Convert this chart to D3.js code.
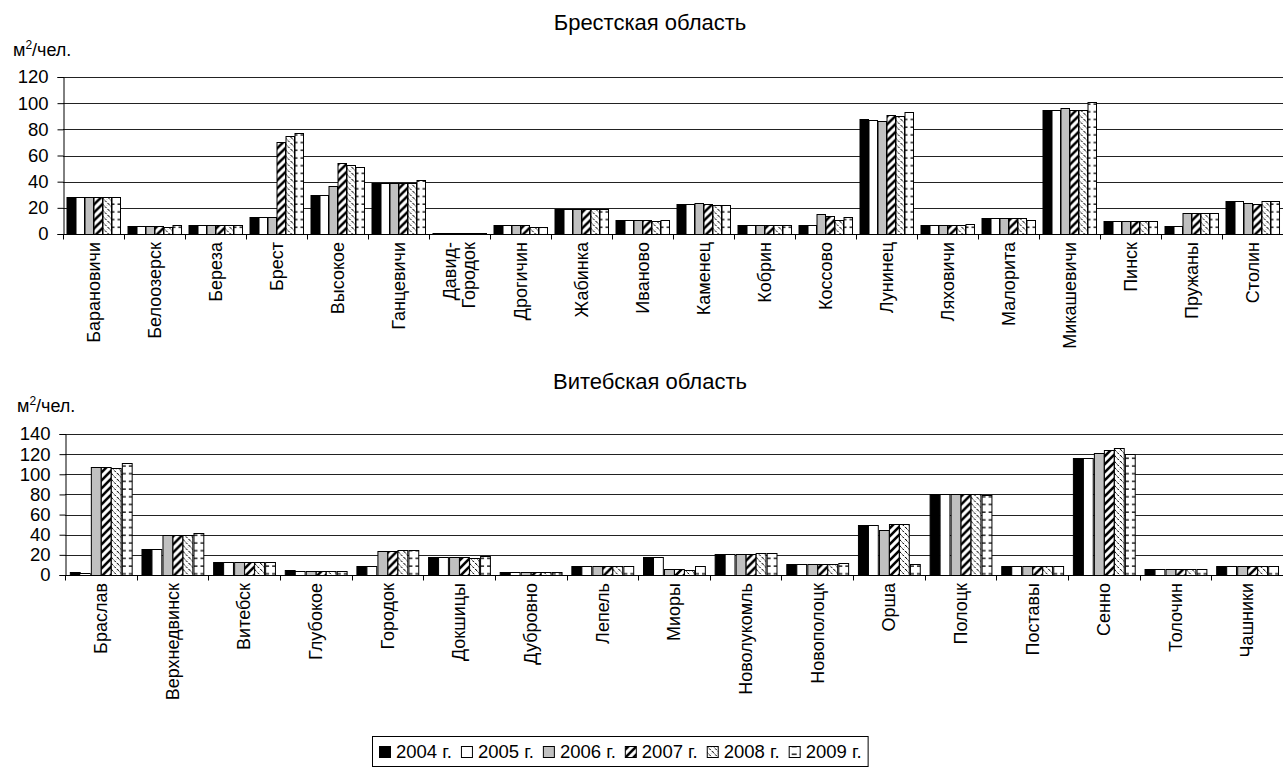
<!DOCTYPE html>
<html>
<head>
<meta charset="utf-8">
<script src="https://d3js.org/d3.v7.min.js"></script>
<style>
  body { margin: 0; background: #fff; }
  svg  { display: block; font-family: Arial, "Liberation Sans", sans-serif; }
</style>
</head>
<body>
<svg id="chart" width="1283" height="767"></svg>
<script>
// ---- data ----
const years = ['2004 г.', '2005 г.', '2006 г.', '2007 г.', '2008 г.', '2009 г.'];

const brestCities = ['Барановичи', 'Белоозерск', 'Береза', 'Брест', 'Высокое', 'Ганцевичи',
  'Давид-\nГородок', 'Дрогичин', 'Жабинка', 'Иваново', 'Каменец', 'Кобрин', 'Коссово',
  'Лунинец', 'Ляховичи', 'Малорита', 'Микашевичи', 'Пинск', 'Пружаны', 'Столин'];
// one row per city, columns 2004..2009
const brestVals = [
  [28, 28, 28, 28, 28, 28],
  [6, 6, 6, 6, 5, 7],
  [7, 7, 7, 7, 7, 7],
  [13, 13, 13, 70, 75, 77],
  [30, 30, 37, 54, 53, 51],
  [39, 39, 39, 39, 39, 41],
  [1, 1, 1, 1, 1, 1],
  [7, 7, 7, 7, 5, 5],
  [19, 19, 19, 19, 19, 19],
  [11, 11, 11, 11, 10, 11],
  [23, 23, 24, 23, 22, 22],
  [7, 7, 7, 7, 7, 7],
  [7, 7, 15, 14, 11, 13],
  [88, 87, 86, 91, 90, 93],
  [7, 7, 7, 7, 7, 8],
  [12, 12, 12, 12, 12, 11],
  [95, 95, 96, 95, 95, 101],
  [10, 10, 10, 10, 10, 10],
  [6, 6, 16, 16, 16, 16],
  [25, 25, 24, 23, 25, 25]
];
const brestTicks = [0, 20, 40, 60, 80, 100, 120];

const vitebskCities = ['Браслав', 'Верхнедвинск', 'Витебск', 'Глубокое', 'Городок', 'Докшицы',
  'Дубровно', 'Лепель', 'Миоры', 'Новолукомль', 'Новополоцк', 'Орша', 'Полоцк', 'Поставы',
  'Сенно', 'Толочин', 'Чашники'];
const vitebskVals = [
  [3, 2, 107, 107, 106, 111],
  [26, 26, 40, 40, 40, 42],
  [13, 13, 13, 13, 13, 13],
  [5, 4, 4, 4, 4, 4],
  [9, 9, 24, 24, 25, 25],
  [18, 18, 18, 18, 17, 19],
  [3, 3, 3, 3, 3, 3],
  [9, 9, 9, 9, 9, 9],
  [18, 18, 6, 6, 5, 9],
  [21, 21, 21, 21, 22, 22],
  [11, 11, 11, 11, 11, 12],
  [50, 50, 45, 51, 51, 11],
  [80, 80, 80, 80, 80, 79],
  [9, 9, 9, 9, 9, 9],
  [116, 116, 121, 124, 126, 120],
  [6, 6, 6, 6, 6, 6],
  [9, 9, 9, 9, 9, 9]
];
const vitebskTicks = [0, 20, 40, 60, 80, 100, 120, 140];

// ---- fills (Excel-like black & white patterns) ----
const svg  = d3.select('#chart');
const defs = svg.append('defs');

function pat(id, w, h, draw) {
  const p = defs.append('pattern').attr('id', id).attr('patternUnits', 'userSpaceOnUse')
    .attr('width', w).attr('height', h);
  p.append('rect').attr('width', w).attr('height', h).attr('fill', '#fff');
  draw(p);
}
// 2007: wide upward diagonal
pat('p2007', 8, 8, p => {
  p.append('path').attr('d', 'M-2,10L10,-2M-6,6L6,-6M2,14L14,2')
    .attr('stroke', '#000').attr('stroke-width', 2.6);
});
// 2008: dashed downward diagonal, with a light cross weave
pat('p2008', 6, 6, p => {
  p.append('path').attr('d', 'M0,0L6,6M-3,3L3,9M3,-3L9,3')
    .attr('stroke', '#000').attr('stroke-width', 1).attr('stroke-dasharray', '2.2,1.2');
  p.append('path').attr('d', 'M0,6L6,0').attr('stroke', '#888').attr('stroke-width', 0.6)
    .attr('stroke-dasharray', '1,2');
});
// 2009: short horizontal dashes
pat('p2009', 8, 7.7, p => {
  p.append('path').attr('d', 'M3,4H8').attr('stroke', '#000').attr('stroke-width', 1.3);
});

const fills = ['#000', '#fff', '#c0c0c0', 'url(#p2007)', 'url(#p2008)', 'url(#p2009)'];

// ---- one panel ----
function panel(o) {
  const g = svg.append('g');
  const x0 = d3.scaleBand().domain(o.cats).range([o.left, 1283])
    .paddingInner(o.pad).paddingOuter(o.pad / 2);
  const x1 = d3.scaleBand().domain(years).range([0, x0.bandwidth()]);
  const y  = d3.scaleLinear().domain([0, d3.max(o.ticks)]).range([o.bottom, o.top]);

  g.append('text').attr('x', 650).attr('y', o.titleY).attr('text-anchor', 'middle')
    .attr('font-size', 22).text(o.title);

  const u = g.append('text').attr('x', o.unitX).attr('y', o.unitY).attr('font-size', 18);
  u.append('tspan').text('м');
  u.append('tspan').attr('font-size', 12).attr('dy', -7).text('2');
  u.append('tspan').attr('dy', 7).text('/чел.');

  // gridlines
  g.append('g').selectAll('line').data(o.ticks.slice(1)).join('line')
    .attr('x1', o.left).attr('x2', 1283)
    .attr('y1', d => Math.round(y(d)) + 0.5).attr('y2', d => Math.round(y(d)) + 0.5)
    .attr('stroke', '#222').attr('stroke-width', 1);

  // y axis
  const ya = g.append('g').attr('transform', `translate(${o.left + 0.5},0)`)
    .call(d3.axisLeft(y).tickValues(o.ticks).tickSize(6).tickPadding(9));
  ya.select('.domain').attr('stroke', '#000');
  ya.selectAll('line').attr('stroke', '#000');
  ya.selectAll('text').attr('font-size', 18.5).attr('font-family', null).attr('fill', '#000');

  // bars
  const grp = g.append('g').selectAll('g').data(o.cats).join('g')
    .attr('transform', d => `translate(${x0(d)},0)`);
  grp.selectAll('rect').data((d, i) => o.vals[i].map((v, k) => ({ v, k })))
    .join('rect')
    .attr('x', d => Math.round(x1(years[d.k])) + 0.5)
    .attr('width', x1.bandwidth() - 0.5)
    .attr('y', d => Math.round(y(d.v)) + 0.5)
    .attr('height', d => o.bottom - Math.round(y(d.v)))
    .attr('fill', d => fills[d.k])
    .attr('stroke', '#000').attr('stroke-width', 1);

  // x axis line + category ticks
  const b = Math.round(o.bottom) + 0.5;
  g.append('line').attr('x1', o.left).attr('x2', 1283).attr('y1', b).attr('y2', b)
    .attr('stroke', '#000');
  const edges = o.cats.map(c => x0(c) - x0.step() * o.pad / 2).concat([1283]);
  g.append('g').selectAll('line').data(edges).join('line')
    .attr('x1', d => Math.round(d) + 0.5).attr('x2', d => Math.round(d) + 0.5)
    .attr('y1', b).attr('y2', b + 5).attr('stroke', '#000');

  // rotated category labels
  g.append('g').selectAll('text').data(o.cats).join('text')
    .attr('transform', d => `translate(${x0(d) + x0.bandwidth() / 2},${o.bottom + 8}) rotate(-90)`)
    .attr('text-anchor', 'end').attr('font-size', 18)
    .each(function (d) {
      const lines = d.split('\n');
      const t = d3.select(this);
      lines.forEach((s, i) => {
        t.append('tspan').attr('x', 0)
          .attr('y', (0.35 + (i - (lines.length - 1) / 2) * 1.05) + 'em').text(s);
      });
    });
}

panel({ title: 'Брестская область', cats: brestCities, vals: brestVals, ticks: brestTicks,
  left: 63, top: 77, bottom: 234, pad: 0.115, titleY: 30, unitX: 13, unitY: 56 });
panel({ title: 'Витебская область', cats: vitebskCities, vals: vitebskVals, ticks: vitebskTicks,
  left: 65, top: 434, bottom: 575, pad: 0.135, titleY: 389, unitX: 17, unitY: 412 });

// ---- legend ----
const lg = svg.append('g');
const box = lg.append('rect').attr('fill', '#fff').attr('stroke', '#000');
let cx = 0;
const items = lg.append('g');
years.forEach((yr, k) => {
  const it = items.append('g').attr('transform', `translate(${cx},0)`);
  it.append('rect').attr('x', 0.5).attr('y', -11.5).attr('width', 11).attr('height', 11)
    .attr('fill', fills[k]).attr('stroke', '#000');
  const t = it.append('text').attr('x', 17).attr('y', 0).attr('font-size', 18.5).text(yr);
  cx += 17 + t.node().getComputedTextLength() + 9;
});
const lw = cx - 9;
const lx = Math.round(620 - lw / 2);
items.attr('transform', `translate(${lx},758)`);
box.attr('x', lx - 6.5).attr('y', 736.5).attr('width', lw + 13).attr('height', 30);
</script>
</body>
</html>
